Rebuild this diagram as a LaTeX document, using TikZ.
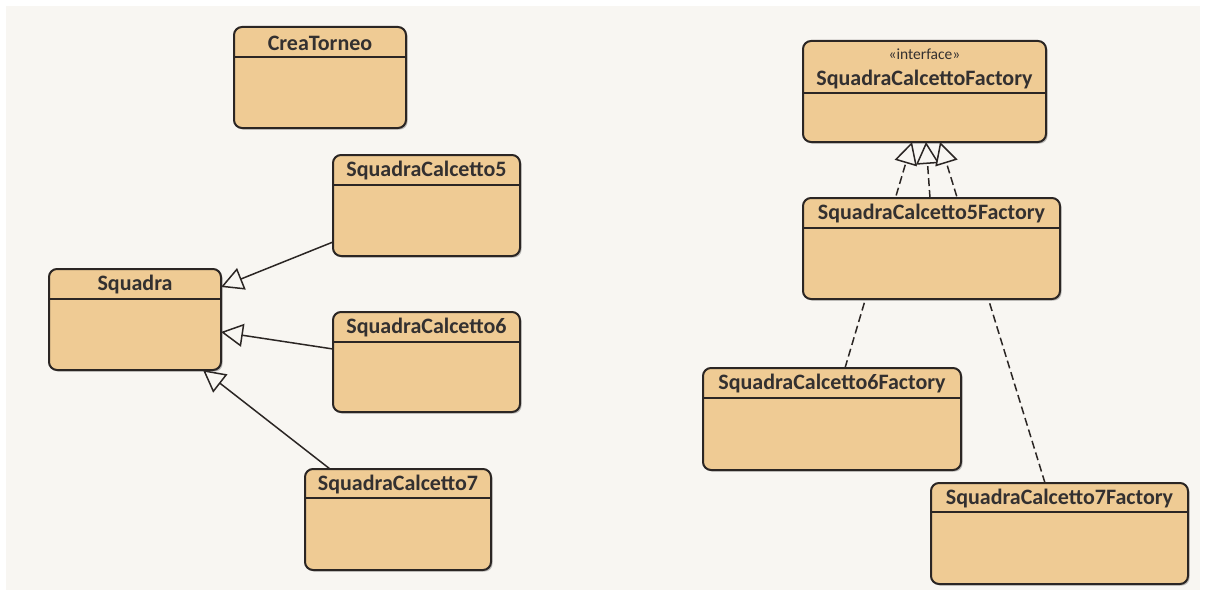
\documentclass[tikz,border=0pt]{standalone}
\usepackage{fontspec}
\setmainfont{Carlito}
\usetikzlibrary{arrows.meta,shadows}
\definecolor{canvasbg}{HTML}{F8F6F2}
\definecolor{boxfill}{HTML}{EFCB94}
\definecolor{boxline}{HTML}{2B2624}
\definecolor{txt}{HTML}{333030}
\pgfdeclarelayer{canvas}
\pgfdeclarelayer{links}
\pgfsetlayers{canvas,links,main}
\tikzset{
  umlbox/.style={draw=boxline, line width=2pt, fill=boxfill, rounded corners=8pt,
    inner sep=0pt, outer sep=0pt, anchor=north west,
    drop shadow={shadow xshift=1.6pt, shadow yshift=-1.6pt, opacity=0.35, fill=black!70}},
  hline/.style={draw=boxline, line width=1.6pt},
  title/.style={text=txt, font=\fontsize{22}{26}\selectfont\bfseries, inner sep=0pt},
  stereo/.style={text=txt, font=\fontsize{15.5}{18}\selectfont, inner sep=0pt},
  gen/.style={draw=boxline, line width=1.5pt,
    -{Triangle[length=22pt,width=23pt,fill=canvasbg,line width=1.5pt]}},
  real/.style={gen, dash pattern=on 8pt off 4pt},
}
\newcommand{\umlclass}[7]{%
  \node[umlbox, minimum width={(#4-#2)*1pt}, minimum height={(#5-#3)*1pt}] (#1) at (#2,#3) {};
  \draw[hline] (#1.west |- 0,#6) -- (#1.east |- 0,#6);
  \node[title] (#1-t) at ({(#2+#4)/2},{(#3+#6)/2+1}) {#7};
}
\begin{document}
\begin{tikzpicture}[x=1pt,y=-1pt]
\begin{pgfonlayer}{canvas}
  \fill[white] (0,0) rectangle (1205,594);
  \fill[canvasbg] (6,6) rectangle (1200,590);
\end{pgfonlayer}
\useasboundingbox (0,0) rectangle (1205,594);

\umlclass{crea}{234}{27}{406}{128}{57}{CreaTorneo}
\umlclass{sc5}{333}{155}{520}{256}{185}{SquadraCalcetto5}
\umlclass{squadra}{49}{269}{221}{370}{299}{Squadra}
\umlclass{sc6}{333}{312}{520}{412}{342}{SquadraCalcetto6}
\umlclass{sc7}{305}{469}{491}{570}{498}{SquadraCalcetto7}

% interface
\node[umlbox, minimum width=243pt, minimum height=101pt] (iface) at (803,41) {};
\draw[hline] (iface.west |- 0,93) -- (iface.east |- 0,93);
\node[stereo] (iface-s) at (924.5,54) {«interface»};
\node[title] (iface-t) at (924.5,80) {SquadraCalcettoFactory};

\umlclass{f5}{803}{198}{1060}{299}{228}{SquadraCalcetto5Factory}
\umlclass{f6}{703}{368}{961}{470}{398}{SquadraCalcetto6Factory}
\umlclass{f7}{931}{483}{1188}{584}{512}{SquadraCalcetto7Factory}

\begin{pgfonlayer}{links}
  \draw[gen] (sc5.west |- 0,242) -- (squadra.east |- 0,287);
  \draw[gen] (sc6.west |- 0,349) -- (squadra.east |- 0,332);
  \draw[gen] (sc7.north -| 330,0) -- (squadra.south -| 203,0);
  \draw[real] (f6.north -| 845,0) -- (iface.south -| 912,0);
  \draw[real] (f5.north -| 930,0) -- (iface.south -| 926,0);
  \draw[real] (f7.north -| 1045,0) -- (iface.south -| 940,0);
\end{pgfonlayer}
\end{tikzpicture}
\end{document}
